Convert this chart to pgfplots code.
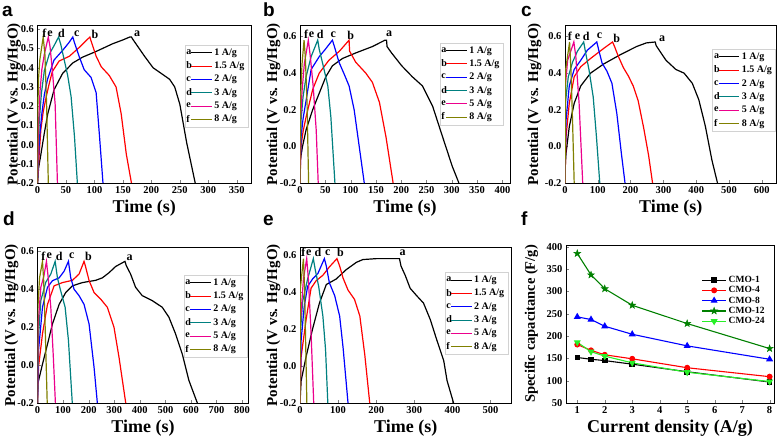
\documentclass[border=0pt]{standalone}
\usepackage{fontspec}
\setmainfont{Liberation Serif}
\newfontfamily\panelfont{Liberation Sans}
\usepackage{pgfplots}
\pgfplotsset{compat=1.18}
\definecolor{cteal}{RGB}{0,128,128}
\definecolor{colive}{RGB}{128,128,0}
\definecolor{cdgreen}{RGB}{0,128,0}
\definecolor{clgreen}{RGB}{40,240,40}
\pgfdeclareplotmark{fstar}{%
  \pgfpathmoveto{\pgfpointpolar{90}{\pgfplotmarksize}}%
  \pgfpathlineto{\pgfpointpolar{126}{0.4\pgfplotmarksize}}%
  \pgfpathlineto{\pgfpointpolar{162}{\pgfplotmarksize}}%
  \pgfpathlineto{\pgfpointpolar{198}{0.4\pgfplotmarksize}}%
  \pgfpathlineto{\pgfpointpolar{234}{\pgfplotmarksize}}%
  \pgfpathlineto{\pgfpointpolar{270}{0.4\pgfplotmarksize}}%
  \pgfpathlineto{\pgfpointpolar{306}{\pgfplotmarksize}}%
  \pgfpathlineto{\pgfpointpolar{342}{0.4\pgfplotmarksize}}%
  \pgfpathlineto{\pgfpointpolar{18}{\pgfplotmarksize}}%
  \pgfpathlineto{\pgfpointpolar{54}{0.4\pgfplotmarksize}}%
  \pgfpathclose\pgfusepathqfillstroke}
\tikzset{pk/.style={font=\bfseries\fontsize{12}{12}\selectfont, inner sep=0pt}}
\pgfplotsset{
  base/.style={
    scale only axis, anchor=south west,
    axis line style={line width=0.8pt},
    tick align=inside, xtick pos=bottom, ytick pos=left,
    major tick length=3pt,
    tick label style={font=\bfseries\fontsize{10.5}{12}\selectfont},
    /pgf/number format/assume math mode=true,
    xlabel style={font=\bfseries\fontsize{18}{20}\selectfont, at={(axis description cs:0.5,-0.16)}, anchor=center},
    ylabel style={font=\bfseries\fontsize{15}{17}\selectfont, anchor=center},
    legend cell align=left,
  },
  gcd/.style={base,
    ymin=-0.2, xmin=0,
    yticklabel style={/pgf/number format/.cd, fixed, fixed zerofill, precision=1},
    xlabel={Time (s)},
    ylabel={Potential (V vs. Hg/HgO)},
    legend style={draw=gray!35, fill=white, font=\bfseries\fontsize{10}{11}\selectfont, anchor=north east, inner sep=1.5pt, row sep=1.2pt},
    every axis plot/.append style={line width=1.2pt},
  },
  lg/.style={legend image code/.code={\node[anchor=west, inner sep=0pt, text=black, font=\bfseries\fontsize{10}{11}\selectfont] at (0pt,0pt) {#1}; \draw[##1, line width=1pt] (5.5pt,0pt) -- (26pt,0pt);}},
}
\begin{document}
\begin{tikzpicture}
\useasboundingbox (0,0) rectangle (778pt,440pt);
\tikzset{plab/.style={anchor=base west, inner sep=0pt, font=\panelfont\bfseries\fontsize{19}{19}\selectfont}}
\node[plab] at (2pt,423pt) {a};
\node[plab] at (263pt,423pt) {b};
\node[plab] at (521pt,423pt) {c};
\node[plab] at (3pt,215pt) {d};
\node[plab] at (263pt,215pt) {e};
\node[plab] at (521pt,215pt) {f};

% ---------- a ----------
\begin{axis}[gcd, at={(37.5pt,257pt)}, width=213.5pt, height=157.5pt,
  xmax=375, ymax=0.62, xtick={0,50,...,350}, ytick={-0.2,-0.1,...,0.61},
  ylabel style={at={(axis description cs:-0.11,0.5)}},
  legend style={at={(0.986,0.876)}}]
\addplot[black, lg=a] coordinates {(0,-0.2) (2,-0.12) (6,-0.05) (12,0.06) (18,0.16) (29,0.285) (44,0.37) (62,0.425) (79,0.455) (103,0.485) (132,0.525) (150,0.545) (162,0.56) (165,0.56) (167,0.55) (174,0.52) (188,0.46) (203,0.40) (220,0.365) (232,0.34) (241,0.30) (250,0.21) (262,0.01) (277,-0.2)};
\addlegendentry{1 A/g}
\addplot[red, lg=b] coordinates {(0,-0.2) (3,-0.05) (6,0.08) (10,0.17) (14.7,0.24) (20,0.31) (26,0.38) (38,0.435) (56,0.46) (73,0.505) (85,0.54) (92,0.56) (94,0.54) (103,0.46) (112,0.405) (126,0.36) (138,0.30) (147,0.16) (156,-0.05) (165,-0.2)};
\addlegendentry{1.5 A/g}
\addplot[blue, lg=c] coordinates {(0,-0.2) (1,-0.1) (2,-0.05) (4,0.05) (7.6,0.16) (12,0.26) (17.6,0.34) (29,0.44) (44,0.49) (55,0.53) (62,0.56) (65,0.53) (73,0.46) (82,0.39) (94,0.35) (103,0.27) (109,0.04) (115,-0.2)};
\addlegendentry{2 A/g}
\addplot[cteal, lg=d] coordinates {(0,-0.2) (1.5,-0.05) (3,0.12) (7,0.27) (12,0.385) (20.6,0.47) (30,0.52) (37,0.56) (41,0.52) (47,0.44) (53,0.36) (59,0.25) (65,0.04) (70,-0.2)};
\addlegendentry{3 A/g}
\addplot[magenta, lg=e] coordinates {(0,-0.2) (1,-0.05) (2,0.12) (4.5,0.28) (7.6,0.39) (12,0.47) (19,0.56) (22,0.51) (26,0.39) (31,0.21) (35,-0.2)};
\addlegendentry{5 A/g}
\addplot[colive, lg=f] coordinates {(0,-0.2) (0.6,0.2) (2,0.35) (4,0.44) (10,0.56) (13,0.47) (16,0.21) (19,-0.2)};
\addlegendentry{8 A/g}
\node[pk] at (axis cs:175,0.578) {a};
\node[pk] at (axis cs:101,0.572) {b};
\node[pk] at (axis cs:69,0.575) {c};
\node[pk] at (axis cs:42,0.578) {d};
\node[pk] at (axis cs:22,0.578) {e};
\node[pk] at (axis cs:12,0.578) {f};
\end{axis}

% ---------- b ----------
\begin{axis}[gcd, at={(300pt,257pt)}, width=210pt, height=157.5pt,
  xmax=415, ymax=0.66, xtick={0,50,...,400}, ytick={-0.2,0,0.2,0.4,0.6},
  ylabel style={at={(axis description cs:-0.126,0.5)}},
  legend style={at={(0.967,0.89)}}]
\addplot[black, lg=a] coordinates {(0,-0.2) (0.5,-0.075) (5,0.0) (12,0.09) (25,0.2) (38,0.29) (51,0.38) (64,0.44) (84,0.48) (110,0.51) (143,0.545) (168,0.58) (171,0.58) (172,0.545) (181,0.51) (201,0.44) (222,0.38) (242,0.33) (262,0.22) (282,0.05) (301,-0.11) (314,-0.2)};
\addlegendentry{1 A/g}
\addplot[red, lg=b] coordinates {(0,-0.2) (2,0.0) (6,0.08) (12,0.16) (25,0.31) (38,0.40) (57,0.47) (78,0.52) (97,0.58) (98,0.52) (110,0.46) (130,0.40) (143,0.35) (157,0.24) (170,0.05) (184,-0.2)};
\addlegendentry{1.5 A/g}
\addplot[blue, lg=c] coordinates {(0,-0.2) (2,0.05) (6,0.15) (12,0.25) (22,0.42) (38,0.49) (50,0.53) (64,0.58) (68,0.545) (77,0.46) (88,0.39) (97,0.33) (107,0.20) (117,0.0) (127,-0.2)};
\addlegendentry{2 A/g}
\addplot[cteal, lg=d] coordinates {(0,-0.2) (2,0.14) (6,0.27) (12,0.38) (22,0.49) (35,0.58) (38,0.53) (45,0.45) (55,0.33) (61,0.16) (69,-0.2)};
\addlegendentry{3 A/g}
\addplot[magenta, lg=e] coordinates {(0,-0.2) (1,0.14) (4,0.3) (8.5,0.45) (16.4,0.58) (20,0.50) (26,0.33) (32,0.09) (36,-0.2)};
\addlegendentry{5 A/g}
\addplot[colive, lg=f] coordinates {(0,-0.2) (0.5,0.23) (4,0.45) (8,0.58) (10.5,0.49) (14,0.23) (17,-0.2)};
\addlegendentry{8 A/g}
\node[pk] at (axis cs:176,0.615) {a};
\node[pk] at (axis cs:100,0.608) {b};
\node[pk] at (axis cs:66,0.612) {c};
\node[pk] at (axis cs:40,0.612) {d};
\node[pk] at (axis cs:23,0.612) {e};
\node[pk] at (axis cs:12,0.612) {f};
\end{axis}

% ---------- c ----------
\begin{axis}[gcd, at={(565pt,257pt)}, width=211.5pt, height=157.5pt,
  xmax=645, ymax=0.66, xtick={0,100,...,600}, ytick={-0.2,0,0.2,0.4,0.6},
  ylabel style={at={(axis description cs:-0.144,0.5)}},
  legend style={at={(0.996,0.85)}}]
\addplot[black, lg=a] coordinates {(0,-0.2) (1,-0.1) (3,-0.04) (13,0.107) (28,0.235) (48,0.33) (78,0.40) (118,0.45) (168,0.50) (218,0.545) (248,0.565) (275,0.57) (278,0.55) (291,0.515) (308,0.47) (338,0.42) (363,0.40) (388,0.345) (408,0.255) (428,0.11) (448,-0.075) (465,-0.2)};
\addlegendentry{1 A/g}
\addplot[red, lg=b] coordinates {(0,-0.2) (3,0.05) (13,0.235) (28,0.38) (48,0.435) (78,0.48) (118,0.535) (145,0.57) (150,0.55) (163,0.49) (178,0.43) (193,0.385) (208,0.33) (223,0.25) (240,0.1) (255,-0.05) (267,-0.2)};
\addlegendentry{1.5 A/g}
\addplot[blue, lg=c] coordinates {(0,-0.2) (3,0.14) (13,0.33) (28,0.42) (48,0.47) (68,0.525) (97,0.57) (103,0.525) (113,0.455) (128,0.41) (143,0.345) (158,0.18) (172,-0.04) (183,-0.2)};
\addlegendentry{2 A/g}
\addplot[cteal, lg=d] coordinates {(0,-0.2) (1,0.235) (10,0.38) (23,0.46) (38,0.52) (57,0.57) (63,0.51) (73,0.42) (86,0.27) (96,0.05) (106,-0.2)};
\addlegendentry{3 A/g}
\addplot[magenta, lg=e] coordinates {(0,-0.2) (1,0.33) (8,0.47) (27,0.57) (33,0.49) (43,0.235) (54,-0.2)};
\addlegendentry{5 A/g}
\addplot[colive, lg=f] coordinates {(0,-0.2) (2,0.42) (14,0.57) (18,0.42) (23,0.14) (28,-0.2)};
\addlegendentry{8 A/g}
\node[pk] at (axis cs:296,0.585) {a};
\node[pk] at (axis cs:158,0.59) {b};
\node[pk] at (axis cs:105,0.605) {c};
\node[pk] at (axis cs:65,0.6) {d};
\node[pk] at (axis cs:38,0.6) {e};
\node[pk] at (axis cs:15,0.6) {f};
\end{axis}

% ---------- d ----------
\begin{axis}[gcd, at={(37.5pt,37pt)}, width=211pt, height=155.5pt,
  xmax=825, ymax=0.62, xtick={0,100,...,800}, ytick={-0.2,0,0.2,0.4,0.6},
  ylabel style={at={(axis description cs:-0.123,0.5)}},
  legend style={at={(0.993,0.823)}}]
\addplot[black, lg=a] coordinates {(0,-0.2) (1,-0.1) (19.5,0.005) (39,0.11) (58.5,0.217) (84.5,0.32) (110.5,0.383) (136.5,0.418) (175.5,0.435) (227.5,0.447) (253.6,0.46) (279.6,0.487) (305.6,0.52) (342,0.547) (347,0.525) (364,0.48) (383.6,0.41) (409.6,0.366) (448.6,0.34) (487.6,0.305) (513.7,0.253) (539.7,0.165) (565.7,0.06) (591.7,-0.08) (625,-0.2)};
\addlegendentry{1 A/g}
\addplot[red, lg=b] coordinates {(0,-0.2) (4,-0.01) (19.5,0.165) (39,0.32) (65,0.418) (97.5,0.435) (136.5,0.447) (162.5,0.48) (182,0.547) (188.6,0.516) (201.6,0.446) (221,0.383) (247,0.348) (273,0.305) (299,0.2) (318.6,0.042) (345,-0.2)};
\addlegendentry{1.5 A/g}
\addplot[blue, lg=c] coordinates {(0,-0.2) (4,0.077) (19.5,0.305) (39,0.41) (58.5,0.445) (84.5,0.46) (104,0.495) (121,0.547) (130,0.46) (143,0.40) (162.5,0.366) (182,0.32) (201.6,0.217) (221,-0.01) (234,-0.2)};
\addlegendentry{2 A/g}
\addplot[cteal, lg=d] coordinates {(0,-0.2) (2.6,0.13) (13,0.34) (32.5,0.437) (52,0.48) (69,0.547) (78,0.46) (91,0.39) (108,0.305) (121,0.13) (136,-0.2)};
\addlegendentry{3 A/g}
\addplot[magenta, lg=e] coordinates {(0,-0.2) (2.6,0.218) (13,0.41) (25,0.47) (35,0.547) (42,0.46) (52,0.305) (62,0.04) (70,-0.2)};
\addlegendentry{5 A/g}
\addplot[colive, lg=f] coordinates {(0,-0.2) (1.5,0.3) (8,0.46) (19.5,0.547) (24,0.45) (30,0.2) (38,-0.2)};
\addlegendentry{8 A/g}
\node[pk] at (axis cs:360,0.568) {a};
\node[pk] at (axis cs:199,0.575) {b};
\node[pk] at (axis cs:134,0.575) {c};
\node[pk] at (axis cs:85,0.575) {d};
\node[pk] at (axis cs:46,0.575) {e};
\node[pk] at (axis cs:23,0.575) {f};
\end{axis}

% ---------- e ----------
\begin{axis}[gcd, at={(300pt,37pt)}, width=211.5pt, height=155.5pt,
  xmax=555, ymax=0.64, xtick={0,100,...,500}, ytick={-0.2,0,0.2,0.4,0.6},
  ylabel style={at={(axis description cs:-0.125,0.5)}},
  legend style={at={(0.983,0.84)}}]
\addplot[black, lg=a] coordinates {(0,-0.2) (3,-0.08) (16,0.05) (33,0.2) (51,0.34) (69,0.44) (95,0.47) (121,0.52) (148,0.56) (165,0.575) (201,0.58) (261,0.58) (265,0.54) (276,0.49) (289,0.42) (306,0.38) (324,0.34) (342,0.25) (359,0.14) (377,0.03) (386,-0.08) (403,-0.2)};
\addlegendentry{1 A/g}
\addplot[red, lg=b] coordinates {(0,-0.2) (3,0.05) (16,0.25) (29,0.42) (42,0.46) (60,0.49) (77,0.535) (97,0.58) (104,0.54) (113,0.475) (126,0.41) (143,0.36) (157,0.27) (170,0.06) (183,-0.2)};
\addlegendentry{1.5 A/g}
\addplot[blue, lg=c] coordinates {(0,-0.2) (3,0.14) (11,0.32) (20,0.43) (33,0.47) (47,0.50) (64,0.58) (69,0.54) (77,0.45) (91,0.38) (104,0.27) (113,0.10) (126,-0.2)};
\addlegendentry{2 A/g}
\addplot[cteal, lg=d] coordinates {(0,-0.2) (1,0.18) (7,0.35) (20,0.47) (35,0.58) (40,0.52) (49,0.43) (60,0.27) (67,0.09) (73,-0.2)};
\addlegendentry{3 A/g}
\addplot[magenta, lg=e] coordinates {(0,-0.2) (1,0.23) (9,0.47) (17.6,0.58) (22,0.47) (29,0.18) (36,-0.2)};
\addlegendentry{5 A/g}
\addplot[colive, lg=f] coordinates {(0,-0.2) (1,0.42) (9,0.58) (12,0.42) (18,-0.2)};
\addlegendentry{8 A/g}
\node[pk] at (axis cs:269,0.612) {a};
\node[pk] at (axis cs:106,0.612) {b};
\node[pk] at (axis cs:73,0.612) {c};
\node[pk] at (axis cs:47,0.612) {d};
\node[pk] at (axis cs:23,0.612) {e};
\node[pk] at (axis cs:9,0.612) {f};
\end{axis}

% ---------- f ----------
\begin{axis}[base, at={(566pt,37pt)}, width=208pt, height=158pt,
  xmin=0.59, xmax=8.16, ymin=50, ymax=404,
  xtick={1,...,8}, ytick={50,100,...,400},
  xlabel={Current density (A/g)}, ylabel={Specific capacitance (F/g)},
  xlabel style={at={(axis description cs:0.5,-0.158)}},
  ylabel style={font=\bfseries\fontsize{14.5}{16}\selectfont, at={(axis description cs:-0.166,0.5)}},
  legend style={draw=none, fill=none, at={(0.97,0.823)}, anchor=north east, font=\bfseries\fontsize{9.5}{10}\selectfont, row sep=-1.5pt, inner sep=1pt},
  legend image code/.code={\draw[mark repeat=2,mark phase=2,#1] plot coordinates {(0pt,0pt) (12pt,0pt) (24pt,0pt)};},
  every axis plot/.append style={line width=1.1pt}]
\addplot[black, mark=square*, mark size=2.2pt] coordinates {(1,152) (1.5,148) (2,145) (3,137) (5,120) (8,97)};
\addlegendentry{CMO-1}
\addplot[red, mark=*, mark size=2.4pt] coordinates {(1,181) (1.5,168) (2,158) (3,149) (5,129) (8,109)};
\addlegendentry{CMO-4}
\addplot[blue, mark=triangle*, mark size=3pt] coordinates {(1,243) (1.5,237) (2,222) (3,204) (5,178) (8,148)};
\addlegendentry{CMO-8}
\addplot[cdgreen, mark=fstar, mark size=3.6pt, mark options={line width=0.5pt}] coordinates {(1,385) (1.5,337) (2,306) (3,269) (5,228) (8,172)};
\addlegendentry{CMO-12}
\addplot[clgreen, mark=triangle*, mark size=3pt, mark options={rotate=180}] coordinates {(1,186) (1.5,165) (2,155) (3,140) (5,119) (8,98)};
\addlegendentry{CMO-24}
\end{axis}
\end{tikzpicture}
\end{document}
